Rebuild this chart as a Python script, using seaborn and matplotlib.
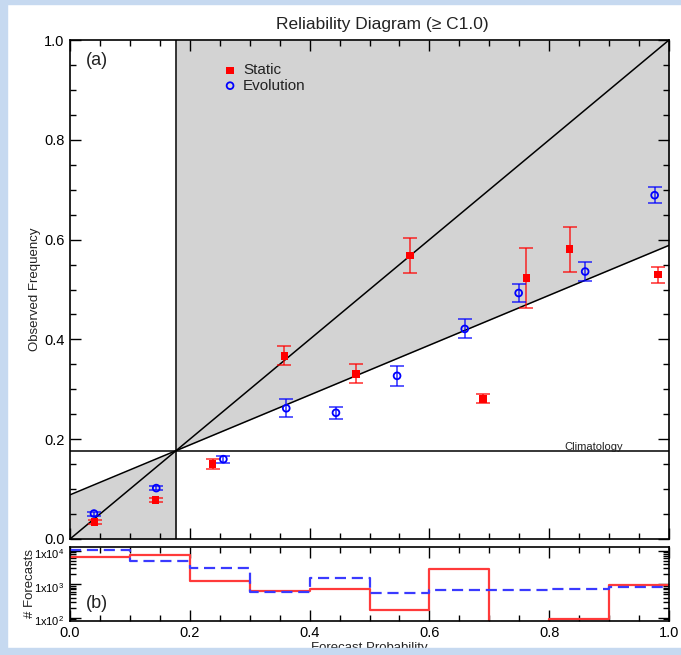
import numpy as np
import matplotlib
matplotlib.use("Agg")
import matplotlib.pyplot as plt
import matplotlib.transforms as mtransforms
import seaborn as sns
from matplotlib.patches import Rectangle
from matplotlib.ticker import MultipleLocator, LogLocator, NullFormatter, FixedLocator, FixedFormatter, FormatStrFormatter

# ---------------- data ----------------
climatology = 0.177

static_x = [0.041, 0.143, 0.238, 0.358, 0.477, 0.568, 0.689, 0.762, 0.834, 0.982]
static_y = [0.034, 0.078, 0.150, 0.367, 0.331, 0.568, 0.281, 0.523, 0.581, 0.530]
static_err = [0.004, 0.004, 0.010, 0.019, 0.019, 0.035, 0.009, 0.060, 0.045, 0.016]

evo_x = [0.040, 0.144, 0.256, 0.361, 0.444, 0.546, 0.659, 0.749, 0.860, 0.976]
evo_y = [0.051, 0.102, 0.160, 0.262, 0.253, 0.327, 0.421, 0.493, 0.536, 0.689]
evo_err = [0.004, 0.004, 0.007, 0.018, 0.012, 0.020, 0.019, 0.019, 0.019, 0.016]

bin_edges = [0.0, 0.1, 0.2, 0.3, 0.4, 0.5, 0.6, 0.7, 0.8, 0.9, 1.0]
static_counts = [6360, 7620, 1280, 645, 700, 172, 2790, 30, 93, 950]
evo_counts = [10500, 4940, 3060, 578, 1570, 563, 677, 677, 710, 814]

hist_yticks = [1e2, 1e3, 1e4]
hist_yticklabels = ["1x10$^{2}$", "1x10$^{3}$", "1x10$^{4}$"]

# ---------------- style ----------------
sns.set_style("ticks")
plt.rcParams["font.family"] = ["Liberation Sans", "DejaVu Sans"]
plt.rcParams["mathtext.default"] = "regular"
plt.rcParams["axes.edgecolor"] = "black"
plt.rcParams["xtick.color"] = "black"
plt.rcParams["ytick.color"] = "black"
plt.rcParams["text.color"] = "#222222"
plt.rcParams["axes.labelcolor"] = "#222222"

fig = plt.figure(figsize=(6.81, 6.55), dpi=100)
ax = fig.add_axes([0.1028, 0.1771, 0.8796, 0.7618])
axh = fig.add_axes([0.1028, 0.0524, 0.8796, 0.1120])

# ---------------- reliability panel ----------------
c = climatology
xr = np.array([c, 1.0])
ax.fill_between(xr, (xr + c) / 2, 1.0, color="#d3d3d3", lw=0, zorder=0)
xl = np.array([0.0, c])
ax.fill_between(xl, 0.0, (xl + c) / 2, color="#d3d3d3", lw=0, zorder=0)

ax.plot([0, 1], [0, 1], color="black", lw=1.1, zorder=1)
ax.plot([0, 1], [c / 2, (1 + c) / 2], color="black", lw=1.1, zorder=1)
ax.axhline(c, color="black", lw=1.1, zorder=1)
ax.axvline(c, color="black", lw=1.1, zorder=1)

ax.errorbar(static_x, static_y, yerr=static_err, fmt="none",
            ecolor=(1, 0, 0, 0.65), elinewidth=1.4, capsize=5, capthick=1.4, zorder=3)
ax.errorbar(evo_x, evo_y, yerr=evo_err, fmt="none",
            ecolor=(0, 0, 1, 0.65), elinewidth=1.4, capsize=5, capthick=1.4, zorder=3)

sns.scatterplot(x=static_x, y=static_y, marker="s", color="red", s=30,
                linewidth=0, edgecolor="none", label="Static", ax=ax, zorder=5)
sns.scatterplot(x=evo_x, y=evo_y, marker="o", facecolor="none", edgecolor="blue",
                s=24, linewidth=1.3, label="Evolution", ax=ax, zorder=5)

ax.legend(loc="upper left", bbox_to_anchor=(0.257, 0.953), frameon=False,
          fontsize=11, handlelength=0.8, handletextpad=0.45, labelspacing=0.08,
          borderpad=0, borderaxespad=0)

ax.text(0.875, c + 0.002, "Climatology", fontsize=8, ha="center", va="baseline", color="#222222")
ax.text(0.027, 0.958, "(a)", transform=ax.transAxes, fontsize=13, va="center")

ax.set_xlim(0, 1)
ax.set_ylim(0, 1)
ax.xaxis.set_major_locator(MultipleLocator(0.2))
ax.xaxis.set_minor_locator(MultipleLocator(0.05))
ax.yaxis.set_major_locator(MultipleLocator(0.2))
ax.yaxis.set_minor_locator(MultipleLocator(0.05))
ax.yaxis.set_major_formatter(FormatStrFormatter("%.1f"))
ax.tick_params(which="both", direction="in", top=True, right=True, labelbottom=False,
               labelsize=10.5, width=1)
ax.tick_params(which="major", length=8, pad=4)
ax.tick_params(which="minor", length=4.5)
ax.set_ylabel("Observed Frequency", fontsize=9.5, labelpad=2)
ax.set_xlabel("")
ax.set_title("Reliability Diagram (\u2265 C1.0)", fontsize=12.5, pad=8, x=0.522, color="#222222")
for sp in ax.spines.values():
    sp.set_linewidth(1.2)
    sp.set_color("black")

# ---------------- histogram panel ----------------
step_x = bin_edges
step_static = static_counts + [static_counts[-1]]
step_evo = evo_counts + [evo_counts[-1]]

sns.lineplot(x=step_x, y=step_static, drawstyle="steps-post", color="#ff3a3a",
             lw=1.6, ax=axh, estimator=None, sort=False)
sns.lineplot(x=step_x, y=step_evo, drawstyle="steps-post", color="#3a3aff",
             lw=1.6, linestyle=(0, (5, 2.6)), ax=axh, estimator=None, sort=False)

axh.set_yscale("log")
axh.set_ylim(82.6, 12600)
axh.set_xlim(0, 1)
axh.yaxis.set_major_locator(FixedLocator(hist_yticks))
axh.yaxis.set_major_formatter(FixedFormatter(hist_yticklabels))
axh.yaxis.set_minor_locator(LogLocator(base=10, subs=np.arange(2, 10)))
axh.yaxis.set_minor_formatter(NullFormatter())
axh.xaxis.set_major_locator(MultipleLocator(0.2))
axh.xaxis.set_minor_locator(MultipleLocator(0.05))
axh.xaxis.set_major_formatter(FormatStrFormatter("%.1f"))
axh.tick_params(which="both", direction="in", top=True, right=True, width=1)
axh.tick_params(axis="x", which="major", length=8, labelsize=10.5, pad=4)
axh.tick_params(axis="y", which="major", length=8, labelsize=8, pad=4)
axh.tick_params(which="minor", length=4.5)
axh.set_ylabel("# Forecasts", fontsize=9.5, labelpad=-1)
axh.set_xlabel("Forecast Probability", fontsize=9.5, labelpad=1)
axh.text(0.027, 0.228, "(b)", transform=axh.transAxes, fontsize=13, va="center")
for sp in axh.spines.values():
    sp.set_linewidth(1.2)
    sp.set_color("black")

# nudge the histogram's y tick labels slightly down so they clear the "0.0" above
shift = mtransforms.ScaledTranslation(0, -2.5 / 100, fig.dpi_scale_trans)
for lab in axh.get_yticklabels():
    lab.set_transform(lab.get_transform() + shift)

# ---------------- light-blue page border ----------------
bc = "#c6d9f0"
H, W = 655.0, 681.0
fig.patches.extend([
    Rectangle((0, 1 - 4 / H), 1, 4 / H, transform=fig.transFigure, color=bc, zorder=10),
    Rectangle((0, 0), 7 / W, 1, transform=fig.transFigure, color=bc, zorder=10),
    Rectangle((0, 0), 1, 7 / H, transform=fig.transFigure, color=bc, zorder=10),
])

fig.savefig("out.png", dpi=100)
